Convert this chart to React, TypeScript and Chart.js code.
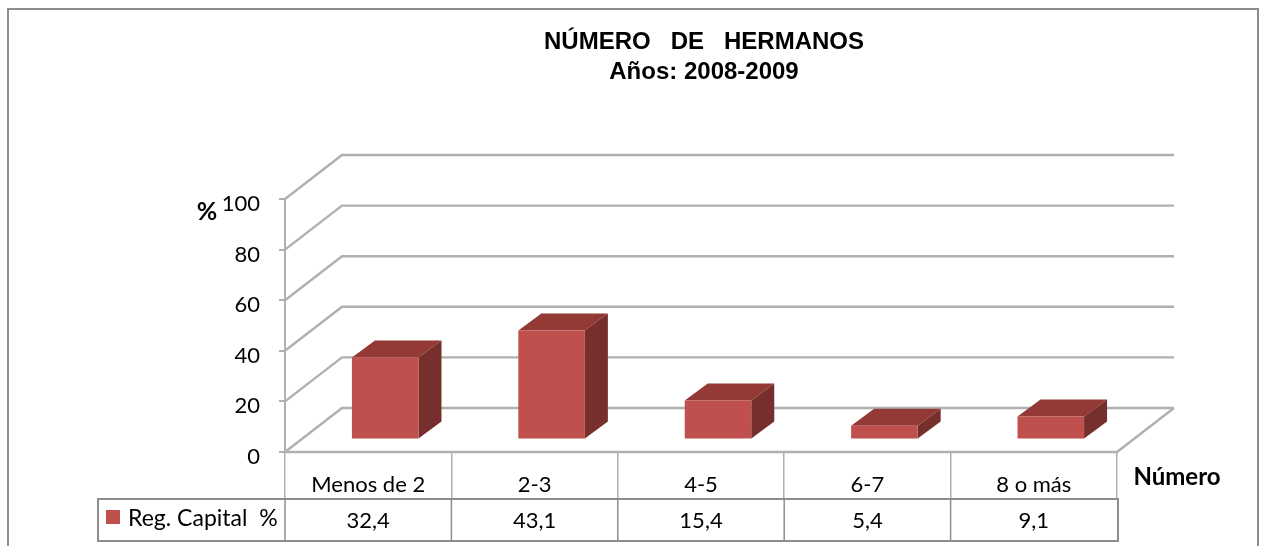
import React, { useEffect, useRef } from "react";
import { Chart, registerables } from "chart.js";

Chart.register(...registerables);

const categories = ["Menos de 2", "2-3", "4-5", "6-7", "8 o más"];
const seriesName = "Reg. Capital  %";
const seriesValues = [32.4, 43.1, 15.4, 5.4, 9.1];
const titleLines = ["NÚMERO   DE   HERMANOS", "Años: 2008-2009"];
const yAxisTitle = "%";
const xAxisTitle = "Número";

const W = 1267;
const H = 546;
const FONT = "Lato, 'Open Sans', sans-serif";
const GRID = "#b0b0b0";
const TABLE = "#8e8e8e";
const FRONT = "#c0504d";
const TOP = "#933a37";
const SIDE = "#772f2d";
const WALL = { dx: 57, dy: -44 };
const BAR_SHIFT = { dx: 17, dy: -12.5 };
const BAR_DEPTH = { dx: 23, dy: -17 };

const scene = {
  id: "scene",
  beforeDraw(chart: any) {
    const { ctx } = chart;
    ctx.save();
    ctx.fillStyle = "#fff";
    ctx.fillRect(0, 0, W, H);
    ctx.strokeStyle = "#8c8c8c";
    ctx.lineWidth = 2;
    ctx.beginPath();
    ctx.moveTo(8, H);
    ctx.lineTo(8, 9);
    ctx.lineTo(1258, 9);
    ctx.lineTo(1258, H);
    ctx.stroke();
    ctx.restore();
  },
  beforeDatasetsDraw(chart: any) {
    const { ctx, chartArea: a, scales } = chart;
    ctx.save();
    ctx.strokeStyle = GRID;
    ctx.lineWidth = 2.4;
    scales.y.ticks.forEach((t: any) => {
      const y = scales.y.getPixelForValue(t.value);
      ctx.beginPath();
      ctx.moveTo(a.left, y);
      ctx.lineTo(a.left + WALL.dx, y + WALL.dy);
      ctx.lineTo(a.right + WALL.dx, y + WALL.dy);
      ctx.stroke();
    });
    const y0 = scales.y.getPixelForValue(0);
    ctx.beginPath();
    ctx.moveTo(a.left, y0);
    ctx.lineTo(a.right, y0);
    ctx.lineTo(a.right + WALL.dx, y0 + WALL.dy);
    ctx.stroke();
    ctx.restore();
  },
  beforeDatasetDraw(chart: any) {
    const { ctx } = chart;
    ctx.save();
    ctx.translate(BAR_SHIFT.dx, BAR_SHIFT.dy);
    chart.getDatasetMeta(0).data.forEach((bar: any) => {
      const l = bar.x - bar.width / 2;
      const r = bar.x + bar.width / 2;
      const d = BAR_DEPTH;
      ctx.fillStyle = TOP;
      ctx.beginPath();
      ctx.moveTo(l, bar.y);
      ctx.lineTo(l + d.dx, bar.y + d.dy);
      ctx.lineTo(r + d.dx, bar.y + d.dy);
      ctx.lineTo(r, bar.y);
      ctx.closePath();
      ctx.fill();
      ctx.fillStyle = SIDE;
      ctx.beginPath();
      ctx.moveTo(r, bar.y);
      ctx.lineTo(r + d.dx, bar.y + d.dy);
      ctx.lineTo(r + d.dx, bar.base + d.dy);
      ctx.lineTo(r, bar.base);
      ctx.closePath();
      ctx.fill();
    });
  },
  afterDatasetDraw(chart: any) {
    chart.ctx.restore();
  },
  afterDraw(chart: any) {
    const { ctx, scales, chartArea: a } = chart;
    ctx.save();
    ctx.fillStyle = "#000";
    ctx.textBaseline = "middle";
    ctx.textAlign = "center";
    ctx.font = "bold 24px 'Liberation Sans', Arial, sans-serif";
    ctx.fillText(titleLines[0], 704, 42);
    ctx.fillText(titleLines[1], 704, 72);

    ctx.font = `bold 25px ${FONT}`;
    ctx.fillText(yAxisTitle, 207, 212);
    ctx.font = `bold 24px ${FONT}`;
    ctx.fillText(xAxisTitle, 1177, 477);

    // data table
    const top = 499;
    const bottom = 541;
    ctx.strokeStyle = TABLE;
    ctx.lineWidth = 2;
    ctx.strokeRect(98, top, a.right + 1 - 98, bottom - top);
    ctx.lineWidth = 1.5;
    const cellW = (a.right - a.left) / categories.length;
    for (let i = 0; i < categories.length; i++) {
      const x = a.left + i * cellW;
      ctx.beginPath();
      ctx.moveTo(x, top);
      ctx.lineTo(x, bottom);
      ctx.stroke();
    }
    ctx.font = `22px ${FONT}`;
    seriesValues.forEach((v, i) => {
      ctx.fillText(String(v).replace(".", ","), scales.x.getPixelForValue(i), 521);
    });
    ctx.fillStyle = FRONT;
    ctx.fillRect(106, 510, 14, 14);
    ctx.fillStyle = "#000";
    ctx.textAlign = "left";
    ctx.font = `23px ${FONT}`;
    ctx.fillText(seriesName, 128, 519);
    ctx.restore();
  },
};

export default function App() {
  const ref = useRef<HTMLCanvasElement>(null);
  useEffect(() => {
    const chart = new Chart(ref.current!, {
      type: "bar",
      data: {
        labels: categories,
        datasets: [
          {
            label: seriesName,
            data: seriesValues,
            backgroundColor: FRONT,
            barPercentage: 0.4,
            categoryPercentage: 1,
          },
        ],
      },
      plugins: [scene],
      options: {
        responsive: false,
        animation: false,
        layout: { padding: { left: 0, right: 150, top: 199, bottom: 0 } },
        plugins: {
          legend: { display: false },
          title: { display: false },
          tooltip: { enabled: false },
        },
        scales: {
          x: {
            afterFit: (s: any) => {
              s.height = 94;
            },
            border: { display: false },
            grid: { drawOnChartArea: false, tickLength: 47, color: GRID, lineWidth: 1.5 },
            ticks: {
              autoSkip: false,
              maxRotation: 0,
              minRotation: 0,
              padding: -27,
              color: "#000",
              font: { family: FONT, size: 22 },
            },
          },
          y: {
            min: 0,
            max: 100,
            afterFit: (s: any) => {
              s.width = 285;
            },
            border: { display: true, color: GRID, width: 2 },
            grid: { drawOnChartArea: false, tickLength: 6, color: GRID, lineWidth: 2 },
            ticks: {
              stepSize: 20,
              padding: 19,
              labelOffset: 5,
              color: "#000",
              font: { family: FONT, size: 22 },
            },
          },
        },
      },
    } as any);
    return () => chart.destroy();
  }, []);
  return (
    <canvas
      ref={ref}
      width={W}
      height={H}
      style={{ position: "absolute", left: 0, top: 0, width: W, height: H }}
    />
  );
}
